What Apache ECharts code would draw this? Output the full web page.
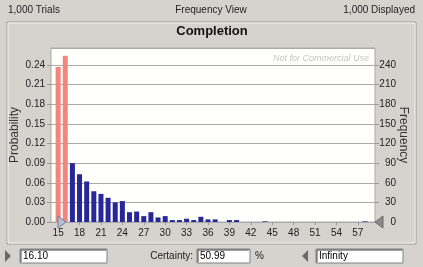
<!DOCTYPE html>
<html>
<head>
<meta charset="utf-8">
<script src="https://cdn.jsdelivr.net/npm/echarts@6/dist/echarts.min.js"></script>
<style>
  html, body { margin: 0; padding: 0; background: #d6d3ce; }
  #chart { width: 423px; height: 267px; }
</style>
</head>
<body>
<div id="chart"></div>
<script>
// bins (value of each bar) and frequencies
const bins = [15, 16, 17, 18, 19, 20, 21, 22, 23, 24, 25, 26, 27, 28, 29, 30, 31, 32, 33, 34, 35, 36, 37, 38, 39, 40, 41, 42, 43, 44, 45, 46, 47, 48, 49, 50, 51, 52, 53, 54, 55, 56, 57, 58];
const freqs = [237, 254, 90, 73, 62, 47, 43, 37, 30, 32, 15, 16, 9, 15, 7, 9, 3, 3, 5, 3, 8, 4, 4, 0, 3, 3, 0, 0, 0, 1, 0, 0, 0, 0, 0, 0, 0, 0, 0, 0, 0, 0, 0, 1];
const trials = 1000;
const xTicks = [15, 18, 21, 24, 27, 30, 33, 36, 39, 42, 45, 48, 51, 54, 57];
const lowerBound = 16.10;
const certainty = '50.99';
const upperBound = 'Infinity';

const font = 'Liberation Sans';
const red = '#f2867c';
const blue = '#27279a';

// bars outside the certainty range are red
const barData = bins.map((b, i) => ({
    value: [b, freqs[i] / trials],
    itemStyle: { color: b < lowerBound ? red : blue }
}));

const chart = echarts.init(document.getElementById('chart'), null, { renderer: 'canvas' });

// input box with a sunken border
function box(x, y, w, h, text) {
    return [
        { type: 'rect', shape: { x: x, y: y, width: w, height: h }, style: { fill: '#ffffff', stroke: '#808080', lineWidth: 1 } },
        { type: 'polyline', shape: { points: [[x + 1, y + h - 1], [x + 1, y + 1], [x + w - 1, y + 1]] }, style: { stroke: '#404040', lineWidth: 1, fill: null } },
        { type: 'text', x: x + 3, y: y + h / 2, style: { text: text, font: '10px ' + font, fill: '#000', verticalAlign: 'middle' } }
    ];
}

let option = {
    backgroundColor: '#d6d3ce',
    animation: false,
    grid: {
        left: 51, right: 48, top: 48, bottom: 45,
        outerBoundsMode: 'none',
        show: true,
        backgroundColor: '#fffffc',
        borderColor: '#a9a9a9',
        borderWidth: 1
    },
    xAxis: {
        type: 'value',
        min: 14,
        max: 59.4,
        axisLine: { show: false },
        splitLine: { show: false },
        axisTick: { show: true, length: 3, customValues: xTicks, lineStyle: { color: '#9a9a9a' } },
        axisLabel: { customValues: xTicks, margin: 6, color: '#222', fontSize: 10, fontFamily: font }
    },
    yAxis: [
        {
            type: 'value',
            min: 0,
            max: 0.266,
            interval: 0.03,
            name: 'Probability',
            nameLocation: 'middle',
            nameGap: 30,
            nameMoveOverlap: false,
            nameTextStyle: { color: '#333', fontSize: 12, fontFamily: font },
            axisLine: { show: false },
            axisTick: { show: true, length: 4, lineStyle: { color: '#9a9a9a' } },
            splitLine: { lineStyle: { color: '#a9a9a9' } },
            axisLabel: {
                showMaxLabel: false, margin: 6, color: '#222', fontSize: 10, fontFamily: font,
                formatter: v => v.toFixed(2)
            }
        },
        {
            type: 'value',
            min: 0,
            max: 266,
            interval: 30,
            position: 'right',
            name: 'Frequency',
            nameLocation: 'middle',
            nameGap: 22,
            nameRotate: -90,
            nameMoveOverlap: false,
            nameTextStyle: { color: '#333', fontSize: 12, fontFamily: font },
            axisLine: { show: false },
            axisTick: { show: true, length: 4, lineStyle: { color: '#9a9a9a' } },
            splitLine: { show: false },
            axisLabel: { showMaxLabel: false, margin: 21, align: 'right', color: '#222', fontSize: 10, fontFamily: font }
        }
    ],
    series: [
        {
            type: 'bar',
            yAxisIndex: 0,
            barWidth: 5,
            data: barData
        }
    ]
};
chart.setOption(option);

// grabber on the lower bound, at its place on the x axis
const lbX = chart.convertToPixel({ xAxisIndex: 0 }, lowerBound);
const y0 = chart.convertToPixel({ yAxisIndex: 0 }, 0);

chart.setOption({
    graphic: [
        // panel frame
        { type: 'rect', shape: { x: 7, y: 22, width: 409, height: 222 }, style: { fill: null, stroke: '#9d9a94', lineWidth: 1 }, z: 1 },
        { type: 'rect', shape: { x: 8, y: 23, width: 407, height: 220 }, style: { fill: null, stroke: '#f4f3f0', lineWidth: 1 }, z: 1 },
        { type: 'text', x: 8, y: 10, style: { text: trials.toLocaleString('en-US') + ' Trials', font: '10px ' + font, fill: '#222', verticalAlign: 'middle' } },
        { type: 'text', x: 211, y: 10, style: { text: 'Frequency View', font: '10px ' + font, fill: '#222', align: 'center', verticalAlign: 'middle' } },
        { type: 'text', x: 415, y: 10, style: { text: trials.toLocaleString('en-US') + ' Displayed', font: '10px ' + font, fill: '#222', align: 'right', verticalAlign: 'middle' } },
        { type: 'text', x: 212, y: 31, style: { text: 'Completion', font: 'bold 13px ' + font, fill: '#111', align: 'center', verticalAlign: 'middle' } },
        { type: 'text', x: 369, y: 58, style: { text: 'Not for Commercial Use', font: 'italic 9px ' + font, fill: '#c4c4c4', align: 'right', verticalAlign: 'middle' }, z: 10 },
        // bound grabbers
        { type: 'polygon', shape: { points: [[lbX - 8, y0 - 6], [lbX, y0], [lbX - 8, y0 + 6]] }, style: { fill: '#b4bfd2', stroke: '#6f7c94', lineWidth: 1 }, z: 10 },
        { type: 'polygon', shape: { points: [[383, y0 - 6], [375, y0], [383, y0 + 6]] }, style: { fill: '#8a8a8a', stroke: '#6a6a6a', lineWidth: 1 }, z: 10 },
        // bottom controls
        { type: 'polygon', shape: { points: [[5, 250], [11, 256], [5, 262]] }, style: { fill: '#6a6a6a' } },
        ...box(20, 249, 87, 14, lowerBound.toFixed(2)),
        { type: 'text', x: 193, y: 256, style: { text: 'Certainty:', font: '10px ' + font, fill: '#222', align: 'right', verticalAlign: 'middle' } },
        ...box(197, 249, 53, 14, certainty),
        { type: 'text', x: 255, y: 256, style: { text: '%', font: '10px ' + font, fill: '#222', verticalAlign: 'middle' } },
        { type: 'polygon', shape: { points: [[308, 250], [302, 256], [308, 262]] }, style: { fill: '#6a6a6a' } },
        ...box(316, 249, 87, 14, upperBound)
    ]
});
</script>
</body>
</html>
